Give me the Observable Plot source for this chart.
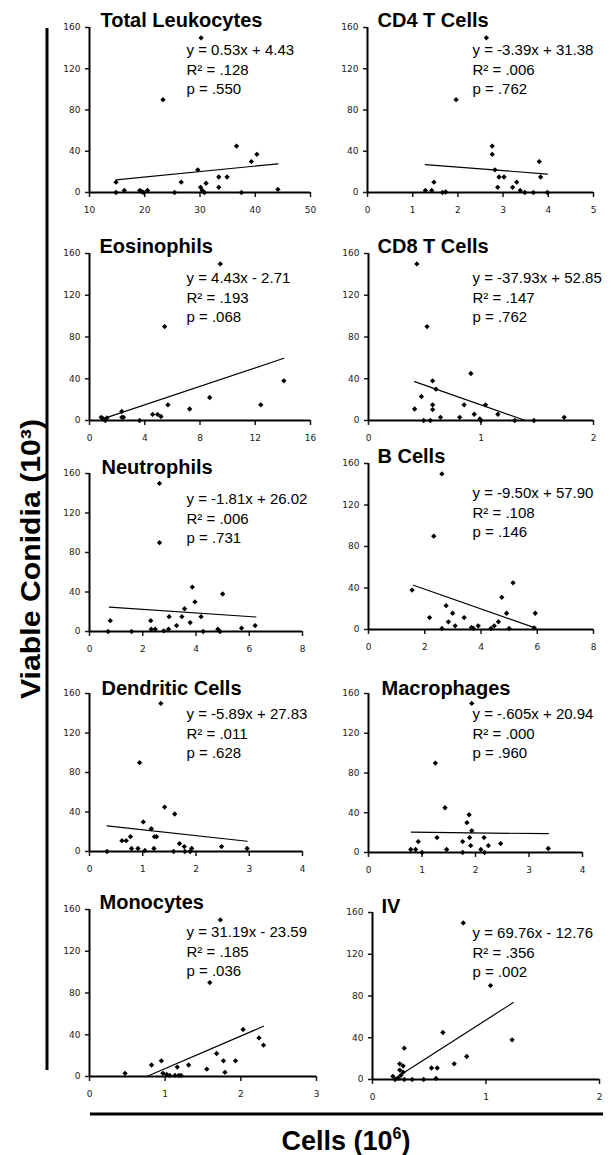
<!DOCTYPE html>
<html>
<head>
<meta charset="utf-8">
<script src="https://cdn.jsdelivr.net/npm/d3@7"></script>
<script src="https://cdn.jsdelivr.net/npm/@observablehq/plot@0.6"></script>
<style>
  body { margin: 0; background: #fff; }
  #wrap { position: relative; width: 611px; height: 1155px; overflow: hidden; background: #fff; }
  #wrap svg { position: absolute; overflow: visible; }
</style>
</head>
<body>
<div id="wrap"></div>
<script>
// ---------- data ----------
const titles = ["Total Leukocytes", "CD4 T Cells", "Eosinophils", "CD8 T Cells", "Neutrophils",
                "B Cells", "Dendritic Cells", "Macrophages", "Monocytes", "IV"];

const leukX = [14.8,14.8,16.3,19.1,19.4,19.8,20.5,23.3,25.4,26.6,29.6,30.2,30.1,30.4,30.8,31.1,33.4,33.4,34.9,36.6,37.5,39.3,40.3,44.1];
const leukY = [10,0,2,2,1,0,2,90,0,10,22,150,5,2,0,9,15,5,15,45,0,30,37,3];

const cd4X = [1.28,1.42,1.47,1.66,1.73,1.96,2.63,2.76,2.76,2.82,2.88,2.91,3.02,3.21,3.30,3.38,3.48,3.67,3.80,3.83,3.98];
const cd4Y = [2,2,10,0,0.5,90,150,45,37,22,5,15,15,5,10,2,0,0,30,15,0];

const eosX = [0.85,1.0,1.14,1.26,2.34,2.34,2.46,3.63,4.57,4.93,5.17,5.44,5.68,7.25,8.70,9.47,12.40,14.07];
const eosY = [3,1.5,0,2.5,8.6,3,3,0,5.8,5.8,3.8,90,15,11,22,150,15,38];

const cd8X = [0.41,0.43,0.47,0.49,0.52,0.55,0.57,0.57,0.57,0.60,0.64,0.81,0.85,0.91,0.94,0.99,1.0,1.04,1.15,1.30,1.47,1.74];
const cd8Y = [11,150,23,0,90,0,38,15,10.5,30,3,3,15,45,6,1.5,0,15,6,0,0,3];

const neuX = [0.70,0.78,1.58,2.30,2.32,2.47,2.63,2.63,2.79,2.97,2.99,3.27,3.47,3.57,3.78,3.86,3.96,4.19,4.27,4.82,4.90,5.00,5.71,6.22];
const neuY = [0,11,0,11,2.4,2.4,150,90,0.7,2.4,15,6,15,23,9,45,30,15,0,2.4,0,38,3.4,6];

const bX = [1.55,2.17,2.32,2.61,2.61,2.76,2.84,2.99,3.08,3.40,3.66,3.73,3.90,4.35,4.47,4.62,4.74,4.91,5.00,5.14,5.93,5.89];
const bY = [38,11.5,90,150,1,23,7.4,15.7,3.5,11.5,1.9,1,3.5,1,3.5,7.4,31,15.7,1,45,15.7,1.6];

const dcX = [0.33,0.61,0.69,0.77,0.79,0.91,0.94,1.01,1.04,1.16,1.21,1.22,1.26,1.34,1.41,1.60,1.58,1.69,1.78,1.79,1.89,1.92,2.48,2.96];
const dcY = [0,11,11,15,3,3,90,30,1,23,3,15,15,150,45,38,0,8,5,0,0,3,5,3];

const macX = [0.79,0.88,0.93,1.00,1.25,1.28,1.43,1.46,1.76,1.76,1.84,1.88,1.89,1.91,1.93,1.93,2.10,2.16,2.17,2.24,2.47,3.36];
const macY = [3,3,11,0,90,15,45,3,11,0,30,38,15,7,150,22,3,15,0,7,9,4];

const monoX = [0.47,0.82,0.95,0.97,1.02,1.06,1.13,1.16,1.18,1.21,1.31,1.55,1.59,1.68,1.73,1.77,1.79,1.93,2.03,2.24,2.30];
const monoY = [3,11,15,3,2,1,1,9,1,1,11,7,90,22,150,15,4,15,45,37,30];

const ivX = [0.18,0.20,0.23,0.24,0.24,0.25,0.27,0.27,0.28,0.28,0.35,0.45,0.52,0.56,0.57,0.62,0.72,0.80,0.83,1.04,1.23];
const ivY = [3,0,1,9,15,4,13,7,0,30,0,0,11,1,11,45,15,150,22,90,38];

const seriesX = [leukX, cd4X, eosX, cd8X, neuX, bX, dcX, macX, monoX, ivX];
const seriesY = [leukY, cd4Y, eosY, cd8Y, neuY, bY, dcY, macY, monoY, ivY];

const equations = ["y = 0.53x + 4.43", "y = -3.39x + 31.38", "y = 4.43x - 2.71", "y = -37.93x + 52.85",
                   "y = -1.81x + 26.02", "y = -9.50x + 57.90", "y = -5.89x + 27.83", "y = -.605x + 20.94",
                   "y = 31.19x - 23.59", "y = 69.76x - 12.76"];
const r2Labels = [".128", ".006", ".193", ".147", ".006", ".108", ".011", ".000", ".185", ".356"];
const pLabels  = [".550", ".762", ".068", ".762", ".731", ".146", ".628", ".960", ".036", ".002"];

const slopes     = [0.53, -3.39, 4.43, -37.93, -1.81, -9.50, -5.89, -0.605, 31.19, 69.76];
const intercepts = [4.43, 31.38, -2.71, 52.85, 26.02, 57.90, 27.83, 20.94, -23.59, -12.76];
const fitStart   = [14.8, 1.28, 0.9, 0.41, 0.75, 1.6, 0.33, 0.8, 0.756, 0.183];
const fitEnd     = [44.1, 3.98, 14.07, 1.393, 6.25, 5.95, 2.96, 3.36, 2.3, 1.24];

const xTickSets = [[10,20,30,40,50],[0,1,2,3,4,5],[0,4,8,12,16],[0,1,2],[0,2,4,6,8],
                   [0,2,4,6,8],[0,1,2,3,4],[0,1,2,3,4],[0,1,2,3],[0,1,2]];
const yTicks = [0, 40, 80, 120, 160];

const yAxisTitle = "Viable Conidia (10³)";
const xAxisTitle = "Cells (10";
const xAxisSup = "6";

// ---------- layout (pixel frames of each panel: left, right, top, bottom) ----------
const frames = [
  [89, 310, 27, 192], [367, 593, 27, 192],
  [89, 310, 253, 420], [368, 593, 253, 420],
  [89, 302, 473, 631], [368, 593, 463, 629],
  [89, 302, 693, 851], [368, 582, 693, 852],
  [89, 316, 909, 1076], [372, 599, 912, 1079]
];
const titlePos = [[100,26],[377,26],[99,252],[377,252],[101,473],[377,462],[101,694],[381,694],[99,908],[381,912]];
const eqPos = [[186,50],[472,50],[186,278],[472,278],[186,499],[472,493],[186,714],[472,714],[186,932],[472,933]];
const eqGap = 19.3;

const wrap = document.getElementById("wrap");
const ML = 44, MR = 16, MT = 34, MB = 28;
const sans = "'Liberation Sans', Arial, Helvetica, sans-serif";

titles.forEach((title, i) => {
  const [x0, x1, y0, y1] = frames[i];
  const xt = xTickSets[i];
  const pts = seriesX[i].map((x, k) => ({x, y: seriesY[i][k]}));
  const fit = [fitStart[i], fitEnd[i]].map(x => ({x, y: slopes[i] * x + intercepts[i]}));
  const [tx, ty] = titlePos[i];
  const [ex, ey] = eqPos[i];
  const lines = [equations[i], "R² = " + r2Labels[i], "p = " + pLabels[i]];

  const eqMarks = lines.map((s, k) => Plot.text([s], {
    frameAnchor: "top-left", dx: ex - x0, dy: ey - y0 + k * eqGap,
    textAnchor: "start", lineAnchor: "middle",
    fontFamily: sans, fontSize: 15, fill: "black"
  }));

  const chart = Plot.plot({
    width: (x1 - x0) + ML + MR,
    height: (y1 - y0) + MT + MB,
    marginLeft: ML, marginRight: MR, marginTop: MT, marginBottom: MB,
    style: {fontFamily: "'DejaVu Sans', sans-serif", fontSize: "9px", color: "#1a1a1a", background: "transparent", overflow: "visible"},
    x: {domain: [xt[0], xt[xt.length - 1]]},
    y: {domain: [0, 160]},
    marks: [
      Plot.axisY({ticks: yTicks, tickSize: 4, tickPadding: 5, label: null, strokeWidth: 1.5}),
      Plot.axisX({ticks: xt, tickSize: 5, tickPadding: 9, label: null, strokeWidth: 1.5, tickFormat: d => String(d)}),
      Plot.ruleX([xt[0]], {stroke: "black", strokeWidth: 2}),
      Plot.ruleY([0], {stroke: "black", strokeWidth: 2}),
      Plot.line(fit, {x: "x", y: "y", stroke: "black", strokeWidth: 1.2}),
      Plot.dot(pts, {x: "x", y: "y", symbol: "diamond2", r: 2.4, fill: "black", stroke: "none"}),
      Plot.text([title], {frameAnchor: "top-left", dx: tx - x0, dy: ty - y0, textAnchor: "start", lineAnchor: "bottom",
                          fontFamily: sans, fontWeight: "bold", fontSize: 20, fill: "black"}),
      ...eqMarks
    ]
  });
  chart.style.left = (x0 - ML) + "px";
  chart.style.top = (y0 - MT) + "px";
  wrap.appendChild(chart);
});

// ---------- shared axis titles and bars ----------
const overlay = d3.select(wrap).append("svg")
  .attr("width", 611).attr("height", 1155)
  .style("left", "0px").style("top", "0px");

overlay.append("line")
  .attr("x1", 47).attr("x2", 47).attr("y1", 28).attr("y2", 1070)
  .attr("stroke", "black").attr("stroke-width", 3);
overlay.append("line")
  .attr("x1", 90).attr("x2", 603).attr("y1", 1114).attr("y2", 1114)
  .attr("stroke", "black").attr("stroke-width", 3);

overlay.append("text")
  .attr("transform", "translate(40,559) rotate(-90)")
  .attr("text-anchor", "middle")
  .attr("font-family", sans).attr("font-weight", "bold").attr("font-size", 28)
  .attr("textLength", 280).attr("lengthAdjust", "spacingAndGlyphs")
  .text(yAxisTitle);

const xt = overlay.append("text")
  .attr("x", 346).attr("y", 1150)
  .attr("text-anchor", "middle")
  .attr("font-family", sans).attr("font-weight", "bold").attr("font-size", 27);
xt.append("tspan").text(xAxisTitle);
xt.append("tspan").attr("dy", -11).attr("font-size", 16).text(xAxisSup);
xt.append("tspan").attr("dy", 11).text(")");
</script>
</body>
</html>
